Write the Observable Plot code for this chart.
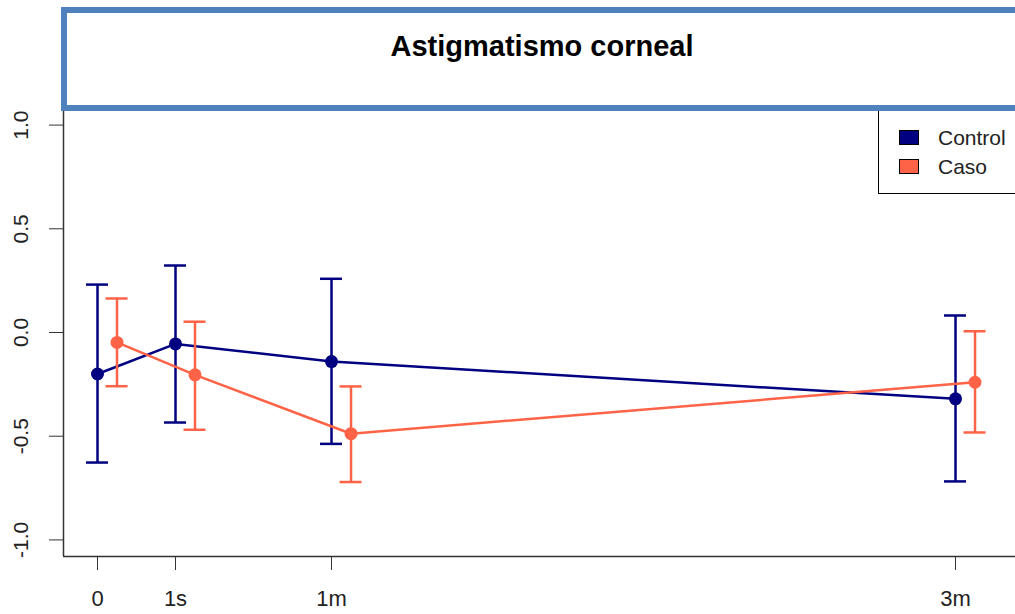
<!DOCTYPE html>
<html>
<head>
<meta charset="utf-8">
<script src="https://cdn.jsdelivr.net/npm/d3@7"></script>
<script src="https://cdn.jsdelivr.net/npm/@observablehq/plot@0.6"></script>
<style>
  body { margin: 0; background: #fff; font-family: "Liberation Sans", Arial, sans-serif; }
  #wrap { position: relative; width: 1015px; height: 614px; overflow: hidden; background: #fff; }
  #titlebox { position: absolute; left: 61px; top: 7px; width: 1000px; height: 92px; border: 6px solid #4F81BD; background: #fff; }
  #title { position: absolute; left: 342px; width: 400px; top: 31px; text-align: center; font-weight: bold; font-size: 29px; line-height: 31px; color: #000; }
  #legend { position: absolute; left: 878px; top: 100px; width: 200px; height: 92px; border: 1px solid #000; background: #fff; }
  .sw { position: absolute; left: 20px; width: 18px; height: 13px; border: 1px solid #000; }
  .lt { position: absolute; left: 59px; font-size: 21px; line-height: 21px; color: #222; }
</style>
</head>
<body>
<div id="wrap">
  <div id="chart"></div>
  <div id="legend">
    <div class="sw" style="top:29px;background:#000080"></div>
    <div class="lt" style="top:26px">Control</div>
    <div class="sw" style="top:58px;background:#FF6347"></div>
    <div class="lt" style="top:55px">Caso</div>
  </div>
  <div id="titlebox"></div>
  <div id="title">Astigmatismo corneal</div>
</div>
<script>
// Data
const xTicks = [0, 1, 3, 11];
const xTickLabels = ["0", "1s", "1m", "3m"];
const yTicks = [-1, -0.5, 0, 0.5, 1];

const controlX = [0, 1, 3, 11];
const controlMean = [-0.20, -0.055, -0.14, -0.32];
const controlLo = [-0.627, -0.434, -0.537, -0.718];
const controlHi = [0.231, 0.323, 0.259, 0.082];

const casoX = [0.25, 1.25, 3.25, 11.25];
const casoMean = [-0.048, -0.204, -0.488, -0.24];
const casoLo = [-0.259, -0.469, -0.721, -0.482];
const casoHi = [0.164, 0.052, -0.26, 0.006];

const seriesColor = { Control: "#000080", Caso: "#FF6347" };

const control = controlX.map((x, i) => ({ x, mean: controlMean[i], lo: controlLo[i], hi: controlHi[i], g: "Control" }));
const caso = casoX.map((x, i) => ({ x, mean: casoMean[i], lo: casoLo[i], hi: casoHi[i], g: "Caso" }));

const xDomain = [-0.436, 11.769];
const yDomain = [-1.08, 1.08];
const cap = 0.141;

function seriesMarks(data, color) {
  return [
    Plot.line(data, { x: "x", y: "mean", stroke: color, strokeWidth: 2.5 }),
    Plot.ruleX(data, { x: "x", y1: "lo", y2: "hi", stroke: color, strokeWidth: 2.5 }),
    Plot.ruleY(data, { y: "hi", x1: d => d.x - cap, x2: d => d.x + cap, stroke: color, strokeWidth: 2.5 }),
    Plot.ruleY(data, { y: "lo", x1: d => d.x - cap, x2: d => d.x + cap, stroke: color, strokeWidth: 2.5 }),
    Plot.dot(data, { x: "x", y: "mean", r: 6.5, fill: color, stroke: "none" })
  ];
}

const chart = Plot.plot({
  width: 1015,
  height: 614,
  marginLeft: 63,
  marginRight: 0,
  marginTop: 108,
  marginBottom: 58,
  style: { fontFamily: "Liberation Sans, Arial, sans-serif", fontSize: "20px", color: "#222", background: "#fff" },
  x: { domain: xDomain },
  y: { domain: yDomain },
  marks: [
    Plot.axisX({ ticks: xTicks, tickFormat: (d) => xTickLabels[xTicks.indexOf(d)], tickSize: 14, tickPadding: 20, label: null, stroke: "#333", fontSize: 22 }),
    Plot.axisY({ ticks: yTicks, tickSize: 14, tickFormat: () => "", label: null, stroke: "#333" }),
    Plot.text(yTicks, { y: d => d, text: d => d3.format(".1f")(d).replace("−", "-"), frameAnchor: "left", dx: -42, rotate: -90, textAnchor: "middle", lineAnchor: "middle", fontSize: 21, fill: "#222" }),
    Plot.ruleX([xDomain[0]], { y1: yDomain[0], y2: yDomain[1], stroke: "#333", strokeWidth: 1.5 }),
    Plot.ruleY([yDomain[0]], { x1: xDomain[0], x2: xDomain[1], stroke: "#333", strokeWidth: 1.5 }),
    ...seriesMarks(control, seriesColor.Control),
    ...seriesMarks(caso, seriesColor.Caso)
  ]
});
document.getElementById("chart").appendChild(chart);
</script>
</body>
</html>
